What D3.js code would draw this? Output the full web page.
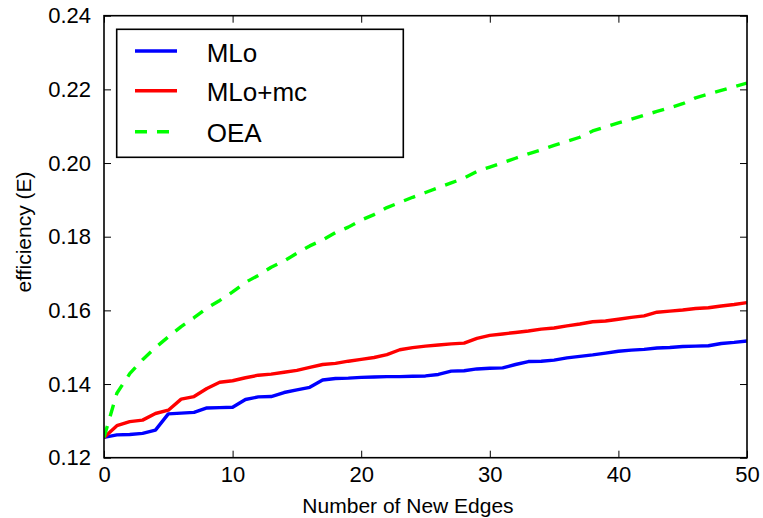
<!DOCTYPE html>
<html>
<head>
<meta charset="utf-8">
<script src="https://cdn.jsdelivr.net/npm/d3@7/dist/d3.min.js"></script>
<style>
  html, body { margin: 0; padding: 0; background: #fff; }
  svg { display: block; }
  text { font-family: "Liberation Sans", Arial, Helvetica, sans-serif; fill: #000; }
</style>
</head>
<body>
<svg id="chart" width="763" height="518"></svg>
<script>
// ---- data ----
const newEdges = d3.range(0, 51); // x values 0..50
const mlo = [
  0.1255, 0.1262, 0.1263, 0.1266, 0.1275, 0.1319, 0.1321, 0.1323, 0.1335, 0.1336,
  0.1337, 0.1358, 0.1365, 0.1366, 0.1377, 0.1384, 0.1391, 0.1411, 0.1415, 0.1416,
  0.1418, 0.1419, 0.1420, 0.1420, 0.1421, 0.1422, 0.1426, 0.1435, 0.1436, 0.1441,
  0.1443, 0.1444, 0.1453, 0.1461, 0.1462, 0.1465, 0.1471, 0.1475, 0.1479, 0.1484,
  0.1489, 0.1492, 0.1494, 0.1498, 0.1499, 0.1502, 0.1503, 0.1504, 0.1510, 0.1513,
  0.1517
];
const mloMc = [
  0.1255, 0.1287, 0.1298, 0.1302, 0.1320, 0.1329, 0.1359, 0.1366, 0.1388, 0.1405,
  0.1409, 0.1417, 0.1424, 0.1427, 0.1432, 0.1437, 0.1445, 0.1453, 0.1456, 0.1462,
  0.1467, 0.1472, 0.1480, 0.1493, 0.1499, 0.1503, 0.1506, 0.1509, 0.1511, 0.1524,
  0.1532, 0.1536, 0.1540, 0.1544, 0.1549, 0.1552, 0.1558, 0.1563, 0.1569, 0.1571,
  0.1576, 0.1581, 0.1585, 0.1595, 0.1598, 0.1601, 0.1605, 0.1607, 0.1612, 0.1616,
  0.1621
];
const oea = [
  0.1255, 0.1375, 0.1428, 0.1466, 0.1499, 0.1528, 0.1556, 0.1580, 0.1606, 0.1627,
  0.1650, 0.1676, 0.1695, 0.1717, 0.1734, 0.1755, 0.1775, 0.1791, 0.1811, 0.1826,
  0.1845, 0.1860, 0.1879, 0.1893, 0.1907, 0.1920, 0.1933, 0.1946, 0.1959, 0.1977,
  0.1989, 0.2001, 0.2013, 0.2025, 0.2036, 0.2048, 0.2059, 0.2070, 0.2087, 0.2098,
  0.2109, 0.2119, 0.2130, 0.2140, 0.2150, 0.2161, 0.2177, 0.2187, 0.2197, 0.2207,
  0.2217
];
const seriesNames = ["MLo", "MLo+mc", "OEA"];
const xTicks = [0, 10, 20, 30, 40, 50];
const yTicks = [0.12, 0.14, 0.16, 0.18, 0.20, 0.22, 0.24];
const xLabel = "Number of New Edges";
const yLabel = "efficiency (E)";

// ---- layout ----
const svg = d3.select("#chart");
const L = 104, R = 747, T = 15.7, B = 457.7;

const x = d3.scaleLinear().domain([0, 50]).range([L, R]);
const y = d3.scaleLinear().domain([0.12, 0.24]).range([B, T]);

const series = [
  { name: seriesNames[0], values: mlo, color: "#0000ff", dash: null },
  { name: seriesNames[1], values: mloMc, color: "#ff0000", dash: null },
  { name: seriesNames[2], values: oea, color: "#00ff00", dash: "12,10" }
];

svg.append("defs").append("clipPath").attr("id", "clip")
  .append("rect").attr("x", L).attr("y", T).attr("width", R - L).attr("height", B - T);

const line = d3.line().x((d, i) => x(newEdges[i])).y(d => y(d));

const plot = svg.append("g").attr("clip-path", "url(#clip)");
series.forEach(s => {
  plot.append("path")
    .datum(s.values)
    .attr("d", line)
    .attr("fill", "none")
    .attr("stroke", s.color)
    .attr("stroke-width", 3.4)
    .attr("stroke-dasharray", s.dash)
    .attr("stroke-linejoin", "round");
});

// ---- axes ----
function styleAxis(g) {
  g.select(".domain").remove();
  g.selectAll(".tick line").attr("stroke", "#000").attr("stroke-width", 1);
  g.selectAll(".tick text").attr("font-size", 22).attr("fill", "#000")
    .attr("font-family", "Liberation Sans, Arial, sans-serif");
}

svg.append("g").attr("transform", `translate(0,${B})`)
  .call(d3.axisBottom(x).tickValues(xTicks).tickSize(-7).tickPadding(9).tickFormat(d3.format("d")))
  .call(styleAxis);
svg.append("g").attr("transform", `translate(0,${T})`)
  .call(d3.axisTop(x).tickValues(xTicks).tickSize(-7).tickFormat(""))
  .call(styleAxis);
svg.append("g").attr("transform", `translate(${L},0)`)
  .call(d3.axisLeft(y).tickValues(yTicks).tickSize(-7).tickPadding(13).tickFormat(d3.format(".2f")))
  .call(styleAxis);
svg.append("g").attr("transform", `translate(${R},0)`)
  .call(d3.axisRight(y).tickValues(yTicks).tickSize(-7).tickFormat(""))
  .call(styleAxis);

// spines
svg.append("rect")
  .attr("x", L).attr("y", T).attr("width", R - L).attr("height", B - T)
  .attr("fill", "none").attr("stroke", "#000").attr("stroke-width", 1.6);

// axis labels
svg.append("text")
  .attr("x", 408).attr("y", 513)
  .attr("text-anchor", "middle")
  .attr("font-size", 21)
  .text(xLabel);
svg.append("text")
  .attr("transform", "translate(31,232) rotate(-90)")
  .attr("text-anchor", "middle")
  .attr("font-size", 21)
  .text(yLabel);

// ---- legend ----
const leg = svg.append("g");
leg.append("rect")
  .attr("x", 116.7).attr("y", 29.3).attr("width", 286.6).attr("height", 128)
  .attr("fill", "#fff").attr("stroke", "#000").attr("stroke-width", 1.6);
const legY = [51, 90.7, 131.7];
series.forEach((s, i) => {
  leg.append("line")
    .attr("x1", 135).attr("x2", 177).attr("y1", legY[i]).attr("y2", legY[i])
    .attr("stroke", s.color).attr("stroke-width", 3.4)
    .attr("stroke-dasharray", s.dash);
  leg.append("text")
    .attr("x", 206.7).attr("y", legY[i] + 10.5)
    .attr("font-size", 26)
    .text(s.name);
});
</script>
</body>
</html>
